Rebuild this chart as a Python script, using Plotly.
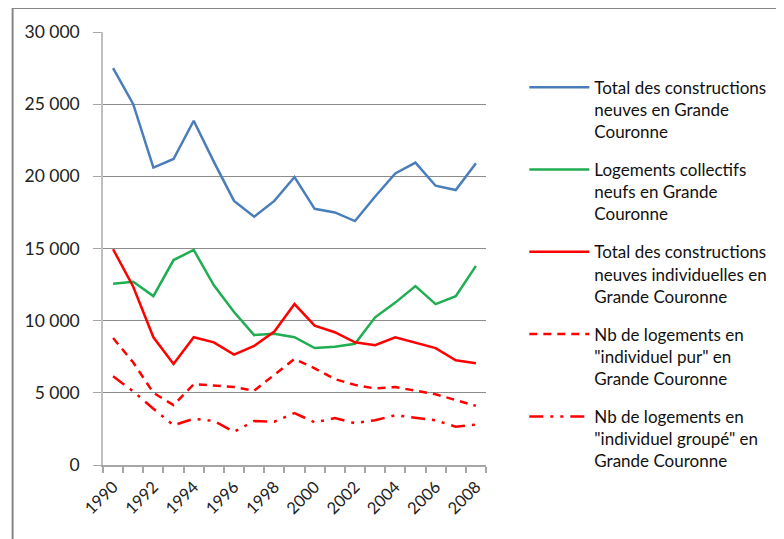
import plotly.graph_objects as go

# Years and series
years = list(range(1990, 2009))

total_constructions = [27500, 25000, 20600, 21200, 23850, 21000, 18300, 17200, 18300, 19950,
                       17750, 17500, 16900, 18600, 20200, 20950, 19350, 19050, 20900]
collectifs = [12550, 12700, 11700, 14200, 14900, 12450, 10600, 9000, 9100, 8850,
              8100, 8200, 8400, 10230, 11250, 12400, 11150, 11700, 13800]
individuelles = [14950, 12350, 8850, 7000, 8850, 8500, 7650, 8250, 9250, 11150,
                 9650, 9200, 8500, 8300, 8850, 8450, 8100, 7250, 7050]
individuel_pur = [8800, 7100, 5000, 4150, 5600, 5500, 5400, 5150, 6250, 7350,
                  6700, 5950, 5550, 5300, 5400, 5150, 4900, 4500, 4100]
individuel_groupe = [6150, 5100, 3900, 2750, 3200, 3050, 2300, 3050, 3000, 3600,
                     2950, 3250, 2900, 3100, 3450, 3250, 3100, 2650, 2800]

y_ticks = [0, 5000, 10000, 15000, 20000, 25000, 30000]
y_labels = ["0", "5 000", "10 000", "15 000", "20 000", "25 000", "30 000"]
x_labels = [1990, 1992, 1994, 1996, 1998, 2000, 2002, 2004, 2006, 2008]

names = [
    "Total des constructions<br>neuves en Grande<br>Couronne",
    "Logements collectifs<br>neufs en Grande<br>Couronne",
    "Total des constructions<br>neuves individuelles en<br>Grande Couronne",
    "Nb de logements en<br>\"individuel pur\" en<br>Grande Couronne",
    "Nb de logements en<br>\"individuel groupé\" en<br>Grande Couronne",
]
series = [total_constructions, collectifs, individuelles, individuel_pur, individuel_groupe]
colors = ["#4a7ebb", "#1fae52", "#ff0000", "#ff0000", "#ff0000"]
dashes = ["solid", "solid", "solid", "8px,6px", "14px,7px,3px,7px,3px,7px"]

fig = go.Figure()
for i, (name, vals) in enumerate(zip(names, series)):
    fig.add_trace(go.Scatter(
        x=years, y=vals, mode="lines", name=name, legendgroup=str(i),
        line=dict(color=colors[i], width=2.5, dash=dashes[i]),
    ))

font = "Lato, 'Liberation Sans', sans-serif"

# outer chart frame
fig.add_shape(type="rect", xref="paper", yref="paper",
              x0=-0.236, x1=1.78, y0=-0.2, y1=1.0554,
              line=dict(color="#868686", width=2), layer="below")

# the page body adds an 8px offset, so the figure is 8px smaller and margins shifted
fig.update_layout(
    width=776, height=531,
    margin=dict(l=95, r=291, t=24, b=74),
    paper_bgcolor="white", plot_bgcolor="white",
    font=dict(family=font, size=15, color="#222"),
    showlegend=True,
    legend=dict(x=1.1, y=0.913, xanchor="left", yanchor="top",
                valign="top", traceorder="grouped", tracegroupgap=13,
                itemwidth=60, font=dict(size=17, color="#111")),
    xaxis=dict(
        range=[1989.5, 2008.5], showgrid=False, zeroline=False,
        tickvals=x_labels, ticktext=[str(v) for v in x_labels],
        tickangle=-45, ticks="", tickfont=dict(size=16.5),
        ticklabelstandoff=4,
        showline=True, linecolor="#a6a6a6", linewidth=1.5,
        minor=dict(tickvals=[y - 0.5 for y in years] + [2008.5], ticks="outside",
                   ticklen=6, tickcolor="#a6a6a6", tickwidth=1.5),
    ),
    yaxis=dict(
        range=[0, 30000], tickvals=y_ticks, ticktext=y_labels,
        showgrid=True, gridcolor="#8c8c8c", gridwidth=1.2, zeroline=False,
        showline=True, linecolor="#bfbfbf", linewidth=1.5,
        ticks="outside", ticklen=8, tickcolor="#a6a6a6",
        tickfont=dict(size=17.5), ticklabelstandoff=10,
    ),
)

fig.write_html("out.html")
